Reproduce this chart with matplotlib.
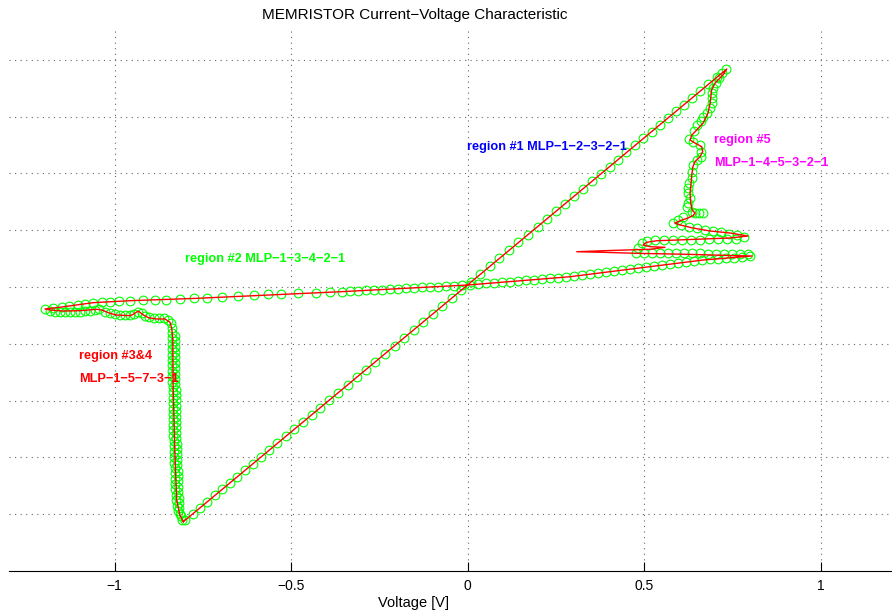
import matplotlib
matplotlib.use("Agg")
import matplotlib.pyplot as plt

plt.rcParams['font.family'] = ['Liberation Sans', 'DejaVu Sans']

# ---- measured samples (green circles), voltage [V] and current (grid units) ----
# region 1: linear rise from the negative extreme to the positive peak
v_r1 = [-0.800, -0.779, -0.758, -0.737, -0.716, -0.695, -0.674, -0.652, -0.630, -0.608,
        -0.585, -0.562, -0.539, -0.515, -0.491, -0.467, -0.442, -0.417, -0.392, -0.366,
        -0.340, -0.314, -0.288, -0.261, -0.234, -0.207, -0.180, -0.153, -0.126, -0.099,
        -0.072, -0.045, -0.018, 0.009, 0.036, 0.063, 0.090, 0.117, 0.144, 0.171,
        0.198, 0.224, 0.250, 0.276, 0.302, 0.327, 0.352, 0.377, 0.402, 0.426,
        0.450, 0.474, 0.498, 0.521, 0.544, 0.567, 0.590, 0.613, 0.636, 0.659,
        0.682, 0.705, 0.733]
i_r1 = [-4.105, -3.996, -3.888, -3.779, -3.670, -3.561, -3.453, -3.339, -3.225, -3.111,
        -2.992, -2.873, -2.753, -2.629, -2.505, -2.381, -2.251, -2.122, -1.992, -1.858,
        -1.723, -1.588, -1.454, -1.314, -1.174, -1.034, -0.894, -0.754, -0.615, -0.475,
        -0.335, -0.195, -0.055, 0.085, 0.224, 0.364, 0.504, 0.644, 0.784, 0.924,
        1.063, 1.198, 1.333, 1.467, 1.602, 1.732, 1.861, 1.990, 2.120, 2.244,
        2.369, 2.493, 2.617, 2.736, 2.855, 2.974, 3.094, 3.213, 3.332, 3.451,
        3.570, 3.689, 3.834]

# region 5: wavy descent after the positive peak
v_r5 = [0.720, 0.713, 0.704, 0.696, 0.693, 0.693, 0.693, 0.687, 0.677, 0.668,
        0.660, 0.651, 0.641, 0.628, 0.639, 0.658, 0.661, 0.661, 0.649, 0.639,
        0.636, 0.635, 0.628, 0.625, 0.623, 0.630, 0.625, 0.622, 0.635, 0.644,
        0.656, 0.668, 0.611, 0.597, 0.583]
i_r5 = [3.762, 3.674, 3.597, 3.498, 3.410, 3.322, 3.234, 3.146, 3.069, 2.998,
        2.923, 2.847, 2.752, 2.611, 2.558, 2.500, 2.382, 2.294, 2.236, 2.148,
        2.030, 1.914, 1.826, 1.738, 1.650, 1.562, 1.474, 1.414, 1.326, 1.308,
        1.298, 1.298, 1.238, 1.180, 1.132]

# zig-zag rows near the positive voltage extreme
v_zig = [0.604, 0.627, 0.650, 0.672, 0.695, 0.718, 0.740, 0.763, 0.783,
         0.760, 0.735, 0.709, 0.684, 0.658, 0.633, 0.607, 0.582, 0.556, 0.531, 0.508, 0.493, 0.483,
         0.477, 0.500, 0.522, 0.545, 0.568, 0.590, 0.613, 0.636, 0.658, 0.681, 0.704, 0.726,
         0.749, 0.771, 0.794]
i_zig = [1.092, 1.065, 1.039, 1.012, 0.986, 0.963, 0.942, 0.916, 0.889,
         0.854, 0.845, 0.845, 0.840, 0.836, 0.833, 0.827, 0.827, 0.827, 0.822, 0.810, 0.769, 0.681,
         0.607, 0.604, 0.603, 0.600, 0.599, 0.597, 0.594, 0.593, 0.590, 0.589, 0.586, 0.585,
         0.582, 0.581, 0.578]

# region 2: slow return sweep towards the negative extreme
v_r2 = [0.800, 0.777, 0.754, 0.732, 0.709, 0.687, 0.664, 0.641, 0.619, 0.596,
        0.573, 0.551, 0.528, 0.505, 0.483, 0.460, 0.437, 0.415, 0.392, 0.369,
        0.347, 0.324, 0.301, 0.279, 0.256, 0.233, 0.211, 0.188, 0.165, 0.143,
        0.120, 0.097, 0.075, 0.052, 0.030, 0.007, -0.016, -0.039, -0.061, -0.084,
        -0.107, -0.129, -0.152, -0.175, -0.197, -0.220, -0.242, -0.265, -0.288, -0.310,
        -0.333, -0.355,
        -0.390, -0.430, -0.481, -0.529, -0.566, -0.605, -0.651, -0.696, -0.737, -0.775,
        -0.815, -0.855, -0.885, -0.918, -0.956, -0.986, -1.013, -1.036, -1.062, -1.084,
        -1.104, -1.128, -1.150, -1.174, -1.197]
i_r2 = [0.542, 0.532, 0.519, 0.509, 0.496, 0.486, 0.474, 0.456, 0.438, 0.421,
        0.403, 0.386, 0.368, 0.350, 0.333, 0.315, 0.296, 0.278, 0.261, 0.243,
        0.225, 0.208, 0.190, 0.176, 0.164, 0.153, 0.141, 0.130, 0.118, 0.107,
        0.095, 0.085, 0.074, 0.062, 0.051, 0.039, 0.030, 0.023, 0.016, 0.007,
        0.000, -0.007, -0.014, -0.023, -0.030, -0.037, -0.046, -0.053, -0.060, -0.067,
        -0.074, -0.081,
        -0.088, -0.099, -0.109, -0.120, -0.130, -0.141, -0.158, -0.171, -0.185, -0.197,
        -0.211, -0.220, -0.229, -0.234, -0.241, -0.246, -0.259, -0.269, -0.276, -0.299,
        -0.317, -0.335, -0.352, -0.370, -0.387]

# regions 3 & 4: wobble back from the negative extreme
v_r34 = [-1.183, -1.169, -1.154, -1.140, -1.126, -1.112, -1.098, -1.084, -1.069, -1.055,
         -1.043, -1.027, -1.013, -0.999, -0.984, -0.970, -0.956, -0.944, -0.934, -0.923,
         -0.914, -0.901, -0.888, -0.874, -0.860, -0.848, -0.841, -0.838]
i_r34 = [-0.423, -0.435, -0.445, -0.445, -0.445, -0.435, -0.435, -0.423, -0.417, -0.405,
         -0.393, -0.435, -0.463, -0.481, -0.493, -0.493, -0.493, -0.481, -0.435, -0.463,
         -0.505, -0.533, -0.551, -0.551, -0.551, -0.581, -0.639, -0.727]

# ... followed by the steep, densely sampled drop to the negative current extreme
v_drop = [-0.837, -0.829, -0.837, -0.829, -0.837, -0.829, -0.837, -0.829, -0.837, -0.829,
          -0.836, -0.828, -0.836, -0.828, -0.836, -0.828, -0.836, -0.828, -0.836, -0.828,
          -0.835, -0.827, -0.835, -0.827, -0.835, -0.827, -0.835, -0.827, -0.835, -0.827,
          -0.833, -0.826, -0.833, -0.826, -0.833, -0.826, -0.833, -0.826, -0.833, -0.826,
          -0.831, -0.824, -0.831, -0.824, -0.831, -0.824, -0.831, -0.824, -0.831, -0.824,
          -0.829, -0.821, -0.829, -0.821, -0.829, -0.821, -0.829, -0.821, -0.829, -0.821,
          -0.826, -0.818, -0.825, -0.817, -0.824, -0.816, -0.821, -0.815, -0.813, -0.808]
i_drop = [-0.810, -0.858, -0.905, -0.953, -1.000, -1.048, -1.095, -1.143, -1.190, -1.238,
          -1.285, -1.333, -1.380, -1.428, -1.475, -1.523, -1.570, -1.618, -1.665, -1.713,
          -1.760, -1.808, -1.855, -1.903, -1.950, -1.998, -2.045, -2.093, -2.140, -2.188,
          -2.235, -2.283, -2.330, -2.378, -2.425, -2.473, -2.520, -2.568, -2.615, -2.663,
          -2.710, -2.758, -2.805, -2.853, -2.900, -2.948, -2.995, -3.043, -3.090, -3.138,
          -3.185, -3.233, -3.280, -3.328, -3.375, -3.423, -3.470, -3.518, -3.565, -3.613,
          -3.660, -3.708, -3.755, -3.803, -3.850, -3.898, -3.945, -3.990, -4.040, -4.100]

# ---- MLP model response (red line), traversed as one closed loop ----
v_fit = [-0.805, 0.734, 0.723, 0.701, 0.691, 0.689, 0.687, 0.681, 0.667, 0.649,
         0.635, 0.630, 0.644, 0.663, 0.666, 0.658, 0.644, 0.638, 0.635, 0.632,
         0.630, 0.632, 0.636, 0.644, 0.639, 0.624, 0.602, 0.587, 0.602, 0.638,
         0.687, 0.743, 0.794, 0.743, 0.667, 0.592, 0.536, 0.507, 0.497, 0.517,
         0.559, 0.517, 0.384, 0.309, 0.384, 0.479, 0.621, 0.762, 0.805, 0.667,
         0.479, 0.290, 0.000, -0.347, -0.766, -0.956, -1.061, -1.149, -1.197, -1.183,
         -1.145, -1.098, -1.050, -1.036, -1.013, -0.994, -0.956, -0.947, -0.933, -0.918,
         -0.904, -0.881, -0.857, -0.843, -0.838, -0.835, -0.834, -0.829, -0.824, -0.815,
         -0.805]
i_fit = [-4.132, 3.838, 3.732, 3.592, 3.468, 3.350, 3.240, 3.063, 2.887, 2.764,
         2.676, 2.588, 2.535, 2.470, 2.382, 2.294, 2.206, 2.118, 1.972, 1.766,
         1.655, 1.479, 1.356, 1.303, 1.259, 1.215, 1.167, 1.127, 1.092, 1.039,
         0.986, 0.951, 0.898, 0.863, 0.845, 0.827, 0.815, 0.787, 0.739, 0.710,
         0.699, 0.664, 0.639, 0.621, 0.611, 0.593, 0.576, 0.551, 0.546, 0.475,
         0.329, 0.181, 0.035, -0.079, -0.199, -0.241, -0.276, -0.352, -0.387, -0.405,
         -0.423, -0.417, -0.393, -0.405, -0.463, -0.493, -0.505, -0.481, -0.423, -0.493,
         -0.541, -0.563, -0.563, -0.621, -0.727, -0.903, -1.755, -2.923, -3.750, -4.014,
         -4.132]

x_ticks = [-1, -0.5, 0, 0.5, 1]
x_ticklabels = ['\u22121', '\u22120.5', '0', '0.5', '1']
y_grid = [-4, -3, -2, -1, 0, 1, 2, 3, 4]

# region annotations: (text, voltage, current, colour)
labels = [
    ('region #1 MLP\u22121\u22122\u22123\u22122\u22121', -0.002, 2.465, '#0000ff'),
    ('region #5', 0.698, 2.588, '#ff00ff'),
    ('MLP\u22121\u22124\u22125\u22123\u22122\u22121', 0.698, 2.183, '#ff00ff'),
    ('region #2 MLP\u22121\u22123\u22124\u22122\u22121', -0.800, 0.493, '#00ff00'),
    ('region #3&4', -1.1005, -1.215, '#ff0000'),
    ('MLP\u22121\u22125\u22127\u22123\u22121', -1.1005, -1.620, '#ff0000'),
]

fig = plt.figure(figsize=(8.92, 6.13), dpi=100)
ax = fig.add_axes([0.00964, 0.06852, 0.98957, 0.88254])

marker_style = dict(linestyle='none', marker='o', markersize=6.3,
                    markerfacecolor='none', markeredgecolor='#00ff00', markeredgewidth=0.8)
for v, i in [(v_r1, i_r1), (v_r5, i_r5), (v_zig, i_zig), (v_r2, i_r2),
             (v_r34, i_r34), (v_drop, i_drop)]:
    ax.plot(v, i, **marker_style)

ax.plot(v_fit, i_fit, color='#ff0000', linewidth=1.0)

for text, x, y, c in labels:
    ax.text(x, y, text, color=c, fontsize=9.2, fontweight='bold', ha='left', va='center')

ax.set_xlim(-1.3, 1.2)
ax.set_ylim(-5, 4.525)
ax.set_xticks(x_ticks)
ax.set_xticklabels(x_ticklabels, fontsize=10)
ax.set_yticks(y_grid)
ax.set_yticklabels([])
ax.tick_params(axis='y', length=0)
ax.tick_params(axis='x', direction='in', length=6.5, width=0.8, pad=6)

for side in ['left', 'right', 'top']:
    ax.spines[side].set_visible(False)
ax.spines['bottom'].set_linewidth(0.8)

ax.grid(True, color='#666666', linewidth=0.8, linestyle=(0, (1, 4)))
ax.set_axisbelow(True)

fig.text(415 / 892, 1 - 15 / 613, 'MEMRISTOR Current\u2212Voltage Characteristic',
         fontsize=11, ha='center', va='center')
fig.text(414 / 892, 1 - 603 / 613, 'Voltage [V]', fontsize=10.5, ha='center', va='center')

fig.savefig('out.png', dpi=100)
